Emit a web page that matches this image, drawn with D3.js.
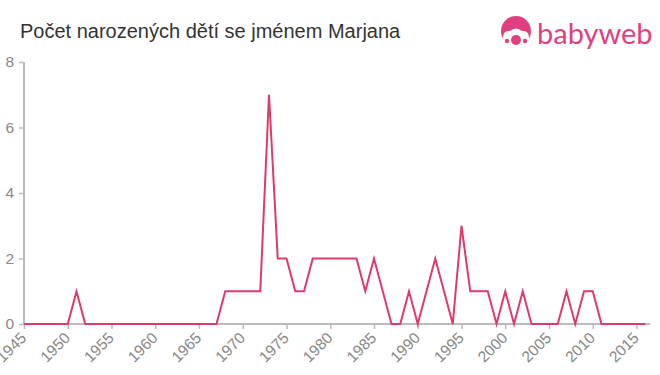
<!DOCTYPE html>
<html><head><meta charset="utf-8">
<script src="https://cdn.jsdelivr.net/npm/d3@7"></script>
<style>body{margin:0;background:#fff;}svg{display:block;font-family:"Liberation Sans",Arial,sans-serif;}</style>
</head><body>
<svg id="c" width="660" height="375"></svg>
<script>
const years = d3.range(1945, 2017);
const counts = [
 0,0,0,0,0,0,1,0,0,0, // 1945-1954
 0,0,0,0,0,0,0,0,0,0, // 1955-1964
 0,0,0,1,1,1,1,1,7,2, // 1965-1974
 2,1,1,2,2,2,2,2,2,1, // 1975-1984
 2,1,0,0,1,0,1,2,1,0, // 1985-1994
 3,1,1,1,0,1,0,1,0,0, // 1995-2004
 0,0,1,0,1,1,0,0,0,0, // 2005-2014
 0,0                  // 2015-2016
];
const xTicks = d3.range(1945, 2016, 5);
const yTicks = [0,2,4,6,8];
const title = "Počet narozených dětí se jménem Marjana";

const svg = d3.select("#c");
const x = d3.scaleLinear().domain([1945, 2015]).range([24, 636.5]);
const y = d3.scaleLinear().domain([0, 8]).range([324, 62]);

svg.append("text").attr("x", 20).attr("y", 38).attr("fill", "#333")
  .attr("font-size", 20).text(title);

// y axis
const ya = svg.append("g").attr("transform", "translate(24,0)")
  .call(d3.axisLeft(y).tickValues(yTicks).tickSize(5).tickPadding(5).tickFormat(d3.format("d")))
  .attr("font-size", 15.5).attr("font-family", "Liberation Sans, Arial, sans-serif");
ya.select(".domain").attr("stroke", "#bbb").attr("stroke-width", 2).attr("d", "M0,62V324");
ya.selectAll(".tick line").attr("stroke", "#bbb").attr("stroke-width", 1.5);
ya.selectAll(".tick text").attr("fill", "#888");

// x axis
const xa = svg.append("g").attr("transform", "translate(0,324)")
  .call(d3.axisBottom(x).tickValues(xTicks).tickSize(5).tickFormat(d3.format("d")))
  .attr("font-size", 15.5).attr("font-family", "Liberation Sans, Arial, sans-serif");
xa.select(".domain").attr("stroke", "#bbb").attr("stroke-width", 2).attr("d", "M24,0H650");
xa.selectAll(".tick line").attr("stroke", "#bbb").attr("stroke-width", 1.5);
xa.selectAll(".tick text").attr("fill", "#888")
  .attr("text-anchor", "end").attr("dy", null).attr("dx", null)
  .attr("transform", "translate(0,12) rotate(-45)").attr("y", 0).attr("x", 0)
  .attr("dominant-baseline", "middle");

// line
const line = d3.line().x((d, i) => x(years[i])).y(d => y(d));
svg.append("path").datum(counts).attr("d", line).attr("fill", "none")
  .attr("stroke", "#e0396b").attr("stroke-width", 2).attr("stroke-linejoin", "miter");

// logo
const lg = svg.append("g");
const pink = "#e0407f";
lg.append("circle").attr("cx", 516).attr("cy", 31).attr("r", 15).attr("fill", pink);
lg.append("path").attr("d", "M503,38 Q503,30 510,31 Q516,26 522,31 Q529,30 529,38 Q529,46 516,47 Q503,46 503,38Z").attr("fill", "#fff");
lg.append("circle").attr("cx", 516).attr("cy", 40).attr("r", 5).attr("fill", pink);
lg.append("circle").attr("cx", 507).attr("cy", 41).attr("r", 2.2).attr("fill", pink);
lg.append("circle").attr("cx", 525).attr("cy", 41).attr("r", 2.2).attr("fill", pink);
lg.append("text").attr("x", 537).attr("y", 44).attr("fill", pink)
  .attr("font-size", 29).attr("font-family", "Lato, 'Open Sans', sans-serif").text("babyweb");
</script>
</body></html>
